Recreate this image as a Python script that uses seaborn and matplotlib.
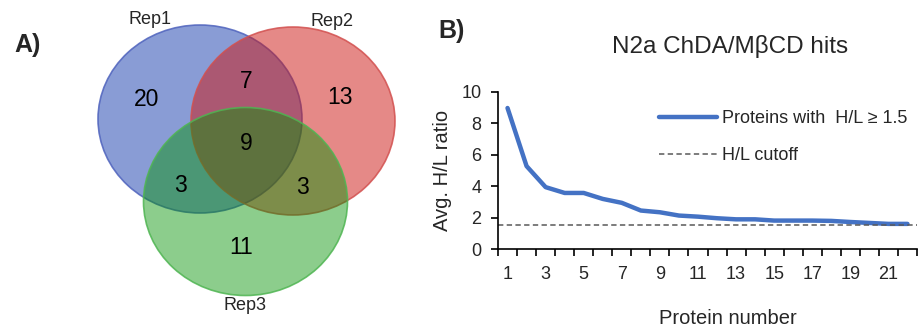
import matplotlib
matplotlib.use('Agg')
import matplotlib.pyplot as plt
from matplotlib.patches import Ellipse
from matplotlib.lines import Line2D
from matplotlib.colors import to_rgba
import pandas as pd
import seaborn as sns

# venn counts (Rep1 only, Rep1&2, Rep2 only, all, Rep1&3, Rep2&3, Rep3 only)
rep_names = ['Rep1', 'Rep2', 'Rep3']
venn_counts = [20, 7, 13, 9, 3, 3, 11]

# panel B data
protein_number = [1, 2, 3, 4, 5, 6, 7, 8, 9, 10, 11, 12, 13, 14, 15, 16, 17, 18, 19, 20, 21, 22]
avg_hl = [8.98, 5.28, 3.94, 3.57, 3.57, 3.19, 2.94, 2.45, 2.34, 2.13, 2.06, 1.96, 1.89, 1.89,
          1.81, 1.81, 1.81, 1.79, 1.72, 1.66, 1.60, 1.60]
hl_cutoff = 1.5
xtick_labels = ['1', '3', '5', '7', '9', '11', '13', '15', '17', '19', '21']

sns.set_style('ticks')
plt.rcParams['font.family'] = ['Liberation Sans', 'DejaVu Sans']

W, H = 918, 331
fig = plt.figure(figsize=(W / 100, H / 100), dpi=100)

# ---------- A) venn, axes in pixel units
ax0 = fig.add_axes([0, 0, 440 / W, 1])
ax0.set_xlim(0, 440)
ax0.set_ylim(H, 0)
ax0.axis('off')

circles = [((200, 119), '#153aad', 0.5, '#4f63bd'),
           ((293, 121), '#cd1511', 0.5, '#d2504f'),
           ((245.5, 201.5), '#009200', 0.45, '#4fb552')]
for (c, fc, a, ec) in circles:
    ax0.add_patch(Ellipse(c, 204, 188, facecolor=to_rgba(fc, a),
                          edgecolor=to_rgba(ec, 0.85), lw=1.2))

num_pos = [(147, 99), (246, 82), (340, 98), (246, 144), (180, 186), (302, 188), (241, 247)]
for (x, y), n in zip(num_pos, venn_counts):
    ax0.text(x, y, str(n), ha='center', va='center', fontsize=16.5, color='black')

name_pos = [(150, 20), (332, 21), (245, 306)]
for (x, y), nm in zip(name_pos, rep_names):
    ax0.text(x, y, nm, ha='center', va='center', fontsize=13)

ax0.text(28, 45, 'A)', ha='center', va='center', fontsize=18, fontweight='bold')

# ---------- B) line chart
ax = fig.add_axes([498 / W, (H - 249) / H, (917 - 498) / W, (249 - 92) / H])
df = pd.DataFrame({'Protein number': protein_number, 'Avg. H/L ratio': avg_hl})
sns.lineplot(data=df, x='Protein number', y='Avg. H/L ratio', ax=ax, color='#4472c4',
             lw=3.2, solid_capstyle='round', solid_joinstyle='round')
ax.axhline(hl_cutoff, color='#595959', lw=1.1, ls=(0, (3.5, 2.2)))

ax.set_xlim(0.5, 22.5)
ax.set_ylim(0, 10)
ax.set_yticks([0, 2, 4, 6, 8, 10])
ax.set_xticks([int(t) for t in xtick_labels])
ax.set_xticklabels(xtick_labels)
ax.set_xticks([p - 0.5 for p in protein_number] + [22.5], minor=True)
ax.tick_params(axis='x', which='major', length=0, pad=12, labelsize=13)
ax.tick_params(axis='x', which='minor', length=5, width=1.2, color='black')
ax.tick_params(axis='y', length=5, width=1.2, pad=7, labelsize=13, color='black')
for s in ['top', 'right']:
    ax.spines[s].set_visible(False)
for s in ['left', 'bottom']:
    ax.spines[s].set_color('black')
    ax.spines[s].set_linewidth(1.2)

ax.set_xlabel('Protein number', fontsize=14.5)
ax.xaxis.set_label_coords((728 - 498) / 419, (249 - 309) / 157)
ax.set_ylabel('Avg. H/L ratio', fontsize=14.5)
ax.yaxis.set_label_coords((452 - 498) / 419, 0.5)

handles = [Line2D([], [], color='#4472c4', lw=3.2, solid_capstyle='round'),
           Line2D([], [], color='#595959', lw=1.1, ls=(0, (3.5, 2.2)))]
ax.legend(handles, ['Proteins with  H/L \u2265 1.5', 'H/L cutoff'], loc='upper left',
          bbox_to_anchor=(659 / W, 1 - 110 / H), bbox_transform=fig.transFigure,
          frameon=False, fontsize=13, borderpad=0, borderaxespad=0,
          handlelength=3.2, handletextpad=0.3, labelspacing=1.1)

fig.text(730 / W, 1 - 47 / H, 'N2a ChDA/M\u03b2CD hits', ha='center', va='center', fontsize=17.5)
fig.text(452 / W, 1 - 31 / H, 'B)', ha='center', va='center', fontsize=18, fontweight='bold')

fig.savefig('out.png', dpi=100)
